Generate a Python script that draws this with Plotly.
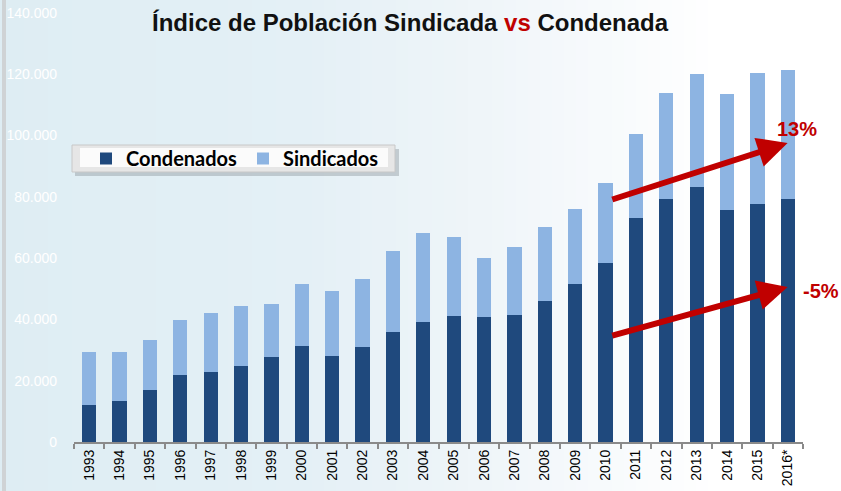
import plotly.graph_objects as go

# ---------------- data ----------------
years = ["1993", "1994", "1995", "1996", "1997", "1998", "1999", "2000", "2001", "2002",
         "2003", "2004", "2005", "2006", "2007", "2008", "2009", "2010", "2011", "2012",
         "2013", "2014", "2015", "2016*"]

condenados = [12100, 13500, 17100, 21800, 22700, 24700, 27900, 31300, 28100, 31000,
              35900, 39200, 41200, 40700, 41400, 45900, 51500, 58500, 73200, 79300,
              83100, 75600, 77700, 79300]

totales = [29300, 29400, 33300, 39800, 42100, 44500, 45000, 51600, 49300, 53100,
           62300, 68100, 66800, 60000, 63600, 70100, 75900, 84400, 100500, 114000,
           120100, 113700, 120400, 121300]

sindicados = [t - c for t, c in zip(totales, condenados)]

y_ticks = [0, 20000, 40000, 60000, 80000, 100000, 120000, 140000]

title_parts = ["Índice de Población Sindicada ", "vs", " Condenada"]
pct_labels = ["13%", "-5%"]

# ---------------- geometry helpers (pixels -> paper) ----------------
W, H = 841, 491
L, R, T, B = 74, 38, 13, 49
PW, PH = W - L - R, H - T - B


def px(x):
    return (x - L) / PW


def py(y):
    return (H - B - y) / PH


shapes = []

# background gradient (left light blue -> right white)
stops = [(0, (222, 237, 243)), (300, (228, 240, 246)), (450, (237, 244, 248)),
         (600, (247, 250, 252)), (720, (255, 255, 255)), (841, (255, 255, 255))]


def col_at(x):
    for (x0, c0), (x1, c1) in zip(stops[:-1], stops[1:]):
        if x0 <= x <= x1:
            f = (x - x0) / (x1 - x0) if x1 > x0 else 0
            return tuple(round(a + (b - a) * f) for a, b in zip(c0, c1))
    return stops[-1][1]


step = 12
for x0 in range(0, W, step):
    c = col_at(x0 + step / 2)
    shapes.append(dict(type="rect", xref="paper", yref="paper", layer="below",
                       x0=px(x0), x1=px(min(x0 + step + 1, W)), y0=py(H), y1=py(0),
                       line=dict(width=0), fillcolor="rgb(%d,%d,%d)" % c))

# left grey border strip
shapes.append(dict(type="rect", xref="paper", yref="paper", layer="below",
                   x0=px(2), x1=px(6), y0=py(H), y1=py(0),
                   line=dict(width=0), fillcolor="#cfd3d5"))

# legend bevel box
shapes += [
    dict(type="rect", xref="paper", yref="paper", layer="below",
         x0=px(75), x1=px(399), y0=py(176), y1=py(149),
         line=dict(width=0), fillcolor="rgba(120,130,135,0.35)"),
    dict(type="rect", xref="paper", yref="paper", layer="below",
         x0=px(72), x1=px(395), y0=py(172), y1=py(145),
         line=dict(color="#c8c8c8", width=1), fillcolor="#e6e6e6"),
    dict(type="rect", xref="paper", yref="paper", layer="below",
         x0=px(80), x1=px(388), y0=py(167), y1=py(148),
         line=dict(width=0), fillcolor="#fbfbfb"),
]

fig = go.Figure()
fig.add_trace(go.Bar(x=years, y=condenados, name="Condenados",
                     marker=dict(color="#1f497d", line=dict(width=0)), width=0.47))
fig.add_trace(go.Bar(x=years, y=sindicados, name="Sindicados",
                     marker=dict(color="#8db4e2", line=dict(width=0)), width=0.47))

annotations = [
    dict(xref="paper", yref="paper", x=px(410), y=py(23), xanchor="center", yanchor="middle",
         showarrow=False,
         text="<b>" + title_parts[0] + "<span style='color:#c00000'>" + title_parts[1]
              + "</span>" + title_parts[2] + "</b>",
         font=dict(family="Liberation Sans, Arial", size=24, color="#111111"),
         ),
    # arrows
    dict(x=(787 - 88) / 30.4, y=(442 - 143) / 3.064 * 1000,
         ax=(610 - 88) / 30.4, ay=(442 - 200) / 3.064 * 1000,
         xref="x", yref="y", axref="x", ayref="y", text="", showarrow=True,
         arrowhead=2, arrowsize=1.0, arrowwidth=6, arrowcolor="#c00000"),
    dict(x=(787 - 88) / 30.4, y=(442 - 287) / 3.064 * 1000,
         ax=(610 - 88) / 30.4, ay=(442 - 336) / 3.064 * 1000,
         xref="x", yref="y", axref="x", ayref="y", text="", showarrow=True,
         arrowhead=2, arrowsize=1.0, arrowwidth=6, arrowcolor="#c00000"),
    dict(xref="paper", yref="paper", x=px(797), y=py(129), showarrow=False,
         text="<b>" + pct_labels[0] + "</b>", xanchor="center", yanchor="middle",
         font=dict(family="Liberation Sans, Arial", size=20, color="#c00000")),
    dict(xref="paper", yref="paper", x=px(821), y=py(291), showarrow=False,
         text="<b>" + pct_labels[1] + "</b>", xanchor="center", yanchor="middle",
         font=dict(family="Liberation Sans, Arial", size=20, color="#c00000")),
]

fig.update_layout(
    width=W, height=H,
    margin=dict(l=L, r=R, t=T, b=B, pad=0, autoexpand=False),
    barmode="stack",
    separators=",.",
    paper_bgcolor="rgba(0,0,0,0)",
    plot_bgcolor="rgba(0,0,0,0)",
    shapes=shapes,
    annotations=annotations,
    showlegend=True,
    legend=dict(orientation="h", x=px(86), y=py(158.5), xanchor="left", yanchor="middle",
                bgcolor="rgba(0,0,0,0)", borderwidth=0,
                font=dict(family="Lato, Liberation Sans", size=20, color="#000000", weight="bold"),
                itemwidth=30, entrywidth=112, traceorder="normal"),
    xaxis=dict(type="category", automargin=False, showline=True, linecolor="#8a8a8a", linewidth=2,
               ticks="outside", tickson="boundaries", ticklen=5, tickcolor="#8a8a8a",
               tickwidth=1.5, tickangle=-90, showgrid=False,
               tickfont=dict(family="Liberation Sans, Arial", size=14, color="#000000"),
               range=[-0.5, len(years) - 0.5]),
    yaxis=dict(range=[0, 140000], automargin=False, tickvals=y_ticks, tickformat=",d", showgrid=False,
               zeroline=False, showline=False, ticks="", ticklabelstandoff=16,
               tickfont=dict(family="Liberation Sans, Arial", size=14, color="#ffffff")),
)

fig.write_html("out.html",
               config={"displayModeBar": False},
               post_script="document.body.style.margin='0';document.body.style.overflow='hidden';")
